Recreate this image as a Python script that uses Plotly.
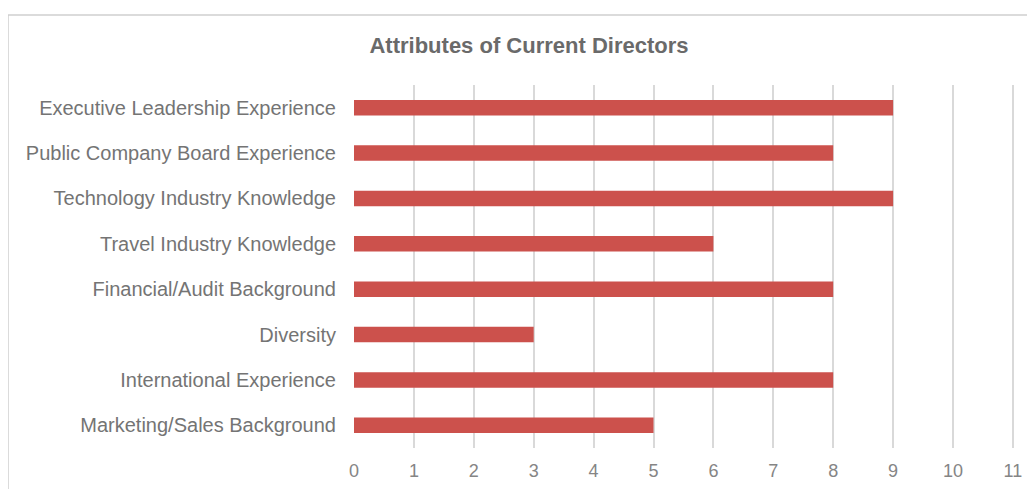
import plotly.graph_objects as go

categories = [
    "Executive Leadership Experience",
    "Public Company Board Experience",
    "Technology Industry Knowledge",
    "Travel Industry Knowledge",
    "Financial/Audit Background",
    "Diversity",
    "International Experience",
    "Marketing/Sales Background",
]
values = [9, 8, 9, 6, 8, 3, 8, 5]
x_ticks = list(range(0, 12))

# page body has an 8px margin, so figure coordinates are offset by 8px
W, H = 1027, 481
L, R, T, B = 346, 0, 77, 41

fig = go.Figure(
    go.Bar(
        x=values,
        y=categories,
        orientation="h",
        marker=dict(color="#cc514c", line=dict(width=0)),
        width=0.34,
        hoverinfo="x+y",
    )
)

pw = W - L - R
ph = H - T - B

fig.update_layout(
    width=W,
    height=H,
    margin=dict(l=L, r=R, t=T, b=B, pad=0),
    paper_bgcolor="white",
    plot_bgcolor="white",
    showlegend=False,
    font=dict(family="Liberation Sans, Arial, sans-serif", color="#666666"),
    title=dict(
        text="<b>Attributes of Current Directors</b>",
        x=521 / W,
        xref="container",
        xanchor="center",
        y=1 - 37 / H,
        yref="container",
        yanchor="middle",
        font=dict(size=22, color="#6a6a6a"),
    ),
    xaxis=dict(
        range=[0, pw / 59.9],
        tickvals=x_ticks,
        ticktext=[str(v) for v in x_ticks],
        showgrid=True,
        gridcolor="#d9d9d9",
        gridwidth=1.5,
        zeroline=False,
        showline=False,
        ticks="",
        ticklabelstandoff=10,
        tickfont=dict(size=18, color="#858585"),
        fixedrange=True,
    ),
    yaxis=dict(
        autorange="reversed",
        showgrid=False,
        zeroline=False,
        showline=False,
        ticks="",
        ticklabelstandoff=17,
        tickfont=dict(size=20, color="#747474"),
        fixedrange=True,
    ),
    shapes=[
        dict(
            type="rect",
            xref="paper",
            yref="paper",
            x0=(0 - L) / pw,
            x1=(W + 20 - L) / pw,
            y0=-(H + 20 - (H - B)) / ph,
            y1=1 + (T - 7) / ph,
            line=dict(color="#cfcfcf", width=1.5),
            fillcolor="rgba(0,0,0,0)",
            layer="below",
        )
    ],
)

fig.write_html("out.html")
